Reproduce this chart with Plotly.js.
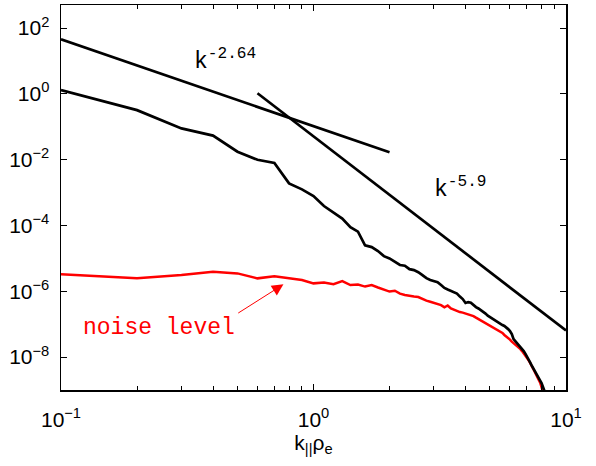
<!DOCTYPE html>
<html>
<head>
<meta charset="utf-8">
<script src="https://cdn.plot.ly/plotly-3.0.1.min.js"></script>
<style>html,body{margin:0;padding:0;background:#fff;}#plot{width:596px;height:466px;}</style>
</head>
<body>
<div id="plot"></div>
<script>
// wavenumber k_|| rho_e (0.1 .. 8.3 in steps of 0.1)
const kValues = [0.1,0.2,0.3,0.4,0.5,0.6,0.7,0.8,0.9,1.0,
  1.1,1.2,1.3,1.4,1.5,1.6,1.7,1.8,1.9,2.0,
  2.1,2.2,2.3,2.4,2.5,2.6,2.7,2.8,2.9,3.0,
  3.1,3.2,3.3,3.4,3.5,3.6,3.7,3.8,3.9,4.0,
  4.1,4.2,4.3,4.4,4.5,4.6,4.7,4.8,4.9,5.0,
  5.1,5.2,5.3,5.4,5.5,5.6,5.7,5.8,5.9,6.0,
  6.1,6.2,6.3,6.4,6.5,6.6,6.7,6.8,6.9,7.0,
  7.1,7.2,7.3,7.4,7.5,7.6,7.7,7.8,7.9,8.0,
  8.1,8.2,8.3];

// measured spectrum (black)
const spectrum = [1.31,0.32,0.089,0.054,0.0174,0.0099,0.0079,0.0019,0.00125,7.8e-4,
  3.9e-4,2.4e-4,1.62e-4,8.9e-5,6.5e-5,2.5e-5,2.2e-5,1.67e-5,1.17e-5,1.0e-5,
  7.7e-6,6.3e-6,6.0e-6,4.7e-6,4.4e-6,3.8e-6,3.1e-6,2.5e-6,2.2e-6,2.04e-6,
  1.9e-6,1.55e-6,1.26e-6,1.13e-6,1.02e-6,9.5e-7,8.5e-7,6.9e-7,5.8e-7,4.4e-7,
  4.7e-7,4.5e-7,3.7e-7,3.3e-7,3.0e-7,2.7e-7,2.33e-7,2.1e-7,1.82e-7,1.64e-7,
  1.43e-7,1.33e-7,1.2e-7,1.08e-7,1.0e-7,9.4e-8,8.8e-8,7.6e-8,7.1e-8,6.2e-8,
  5.0e-8,3.5e-8,3.06e-8,2.67e-8,2.32e-8,2.0e-8,1.81e-8,1.52e-8,1.28e-8,1.0e-8,
  8.4e-9,7.0e-9,5.7e-9,4.8e-9,4.0e-9,3.4e-9,2.9e-9,2.4e-9,1.93e-9,1.62e-9,
  1.3e-9,1.0e-9,7.6e-10];

// noise level (red)
const noise = [3.27e-6,2.47e-6,3.1e-6,3.9e-6,3.5e-6,2.47e-6,2.84e-6,2.52e-6,2.19e-6,1.74e-6,
  1.84e-6,1.65e-6,2.04e-6,1.55e-6,1.6e-6,1.39e-6,1.55e-6,1.3e-6,1.13e-6,9.8e-7,
  1.04e-6,8.5e-7,7.7e-7,7.1e-7,6.9e-7,6.7e-7,5.8e-7,5.2e-7,4.8e-7,4.4e-7,
  4.1e-7,3.8e-7,3.24e-7,3.7e-7,3.0e-7,2.7e-7,2.5e-7,2.33e-7,2.25e-7,2.13e-7,
  2.03e-7,1.89e-7,1.76e-7,1.58e-7,1.43e-7,1.29e-7,1.2e-7,1.12e-7,1.0e-7,9.4e-8,
  8.5e-8,7.9e-8,7.1e-8,6.6e-8,6.0e-8,5.4e-8,4.7e-8,4.3e-8,3.9e-8,3.4e-8,
  2.96e-8,2.67e-8,2.4e-8,2.16e-8,1.95e-8,1.75e-8,1.52e-8,1.32e-8,1.11e-8,1.0e-8,
  8.1e-9,6.8e-9,5.7e-9,4.6e-9,3.75e-9,3.04e-9,2.47e-9,2.14e-9,1.68e-9,1.22e-9,
  9.3e-10,6.6e-10];
const noiseK = kValues.slice(0, noise.length);

// power-law fits: y = amp * k^slope over [kStart, kEnd]
const fit1 = {amp: 0.104, slope: -2.64, kStart: 0.1, kEnd: 2};
const fit2 = {amp: 0.051, slope: -5.9, kStart: 0.6, kEnd: 10};
function fitLine(f) {
  const ks = [f.kStart, f.kEnd];
  return {x: ks, y: ks.map(k => f.amp * Math.pow(k, f.slope))};
}
const l1 = fitLine(fit1), l2 = fitLine(fit2);

const xTickVals = [0.1, 1, 10];
const xTickText = ['10<sup>−1</sup>', '10<sup>0</sup>', '10<sup>1</sup>'];
const xMinorVals = [0.2,0.3,0.4,0.5,0.6,0.7,0.8,0.9,2,3,4,5,6,7,8,9];
const yTickVals = [1e-8, 1e-6, 1e-4, 1e-2, 1, 1e2];
const yTickText = ['10<sup>−8</sup>', '10<sup>−6</sup>', '10<sup>−4</sup>', '10<sup>−2</sup>', '10<sup>0</sup>', '10<sup>2</sup>'];

const traces = [
  {x: noiseK, y: noise, mode: 'lines', line: {color: '#ff0000', width: 2.5}, hoverinfo: 'skip'},
  {x: kValues, y: spectrum, mode: 'lines', line: {color: '#000000', width: 2.7}, hoverinfo: 'skip'},
  {x: l1.x, y: l1.y, mode: 'lines', line: {color: '#000000', width: 2.7}, hoverinfo: 'skip'},
  {x: l2.x, y: l2.y, mode: 'lines', line: {color: '#000000', width: 2.7}, hoverinfo: 'skip'}
];

const mono = 'Liberation Mono, Courier New, monospace';
const layout = {
  width: 596, height: 466,
  margin: {l: 61, r: 30, t: 5, b: 76},
  showlegend: false,
  paper_bgcolor: '#ffffff', plot_bgcolor: '#ffffff',
  font: {family: 'Liberation Sans, Arial, sans-serif', size: 21, color: '#000'},
  xaxis: {
    type: 'log', range: [-1, 1],
    tickmode: 'array', tickvals: xTickVals, ticktext: xTickText,
    ticks: 'inside', ticklen: 6, tickwidth: 1, tickcolor: '#000',
    minor: {tickmode: 'array', tickvals: xMinorVals, ticks: 'inside', ticklen: 4, tickcolor: '#000', showgrid: false},
    showline: true, linecolor: '#000', linewidth: 1.5, mirror: 'ticks',
    showgrid: false, zeroline: false,
    tickfont: {size: 21}, ticklabelstandoff: 10,
    title: {text: 'k<sub>||</sub>ρ<sub>e</sub>', font: {size: 21}, standoff: 5}
  },
  yaxis: {
    type: 'log', range: [-9, 2.7],
    tickmode: 'array', tickvals: yTickVals, ticktext: yTickText,
    ticks: 'inside', ticklen: 6, tickwidth: 1, tickcolor: '#000',
    showline: true, linecolor: '#000', linewidth: 1.5, mirror: 'ticks',
    showgrid: false, zeroline: false,
    tickfont: {size: 21}, ticklabelstandoff: 6
  },
  annotations: [
    {x: -0.481, y: 1.03, xref: 'x', yref: 'y', xanchor: 'left', yanchor: 'middle', showarrow: false,
     text: 'k<sup>-2.64</sup>', font: {family: mono, size: 23, color: '#000'}},
    {x: 0.47, y: -2.87, xref: 'x', yref: 'y', xanchor: 'left', yanchor: 'middle', showarrow: false,
     text: 'k<sup>-5.9</sup>', font: {family: mono, size: 23, color: '#000'}},
    {x: -0.612, y: -7.12, xref: 'x', yref: 'y', xanchor: 'center', yanchor: 'middle', showarrow: false,
     text: 'noise level', font: {family: mono, size: 23, color: '#ff0000'}},
    {x: -0.119, y: -5.79, ax: -0.304, ay: -6.69, xref: 'x', yref: 'y', axref: 'x', ayref: 'y',
     text: '', showarrow: true, arrowhead: 2, arrowsize: 2.3, arrowwidth: 1, arrowcolor: '#ff0000'}
  ]
};

Plotly.newPlot('plot', traces, layout, {staticPlot: true, displayModeBar: false});
</script>
</body>
</html>
